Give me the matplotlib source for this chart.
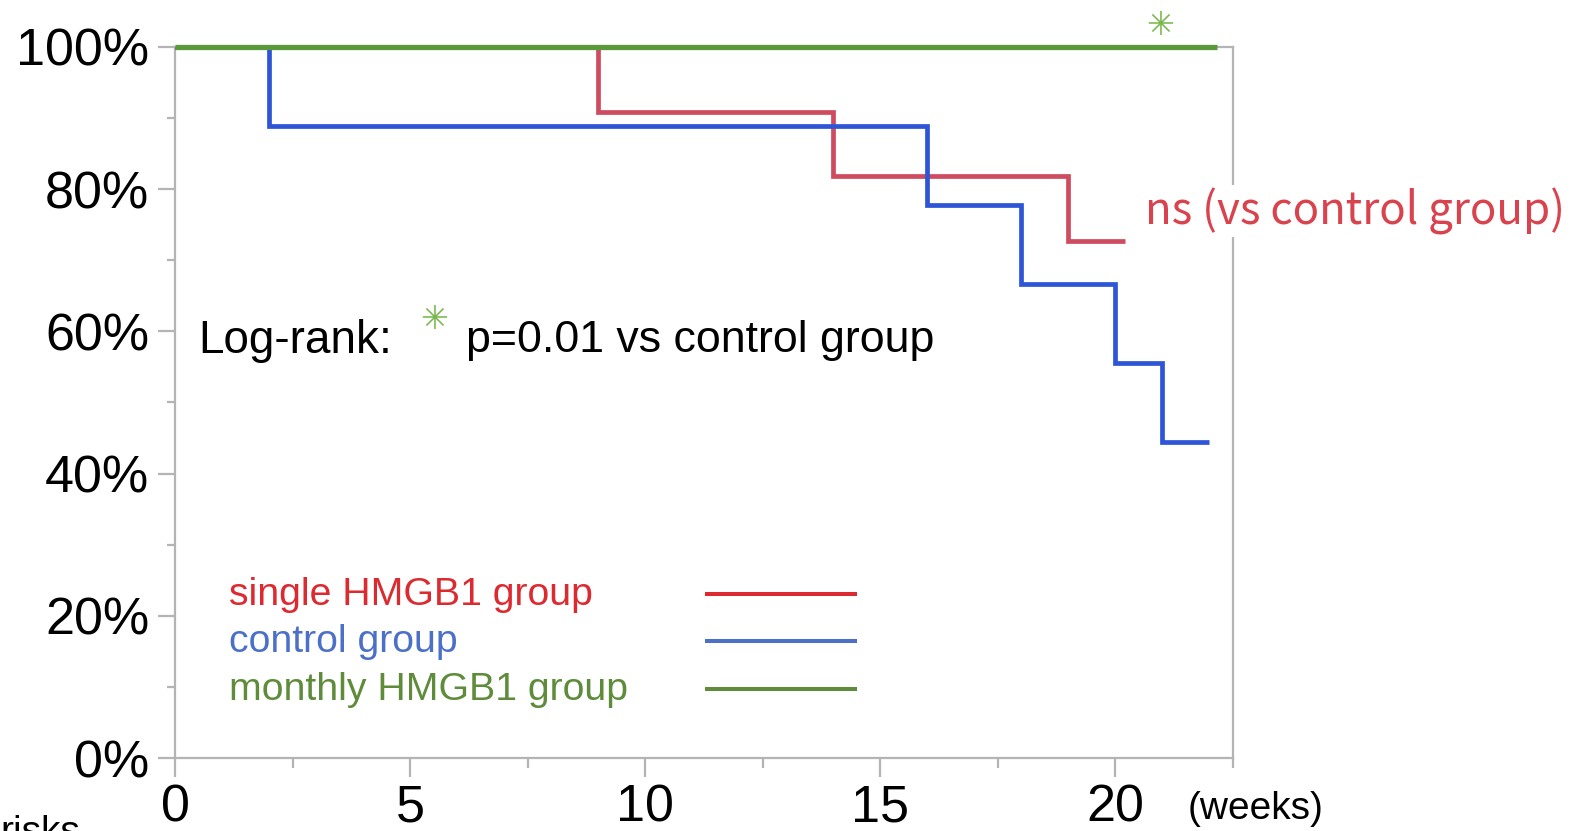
import matplotlib
matplotlib.use("Agg")
import matplotlib.pyplot as plt
from matplotlib.ticker import MultipleLocator, FuncFormatter

# Kaplan-Meier survival curves (time in weeks, survival fraction)
control_weeks = [0, 2, 16, 18, 20, 21, 22.0]
control_surv = [1.0, 0.889, 0.778, 0.667, 0.556, 0.444, 0.444]

single_weeks = [0, 9, 14, 19, 20.2]
single_surv = [1.0, 0.909, 0.818, 0.727, 0.727]

monthly_weeks = [0, 22.15]
monthly_surv = [1.0, 1.0]

group_labels = ["single HMGB1 group", "control group", "monthly HMGB1 group"]
x_ticks = [0, 5, 10, 15, 20]
y_ticks = [0, 0.2, 0.4, 0.6, 0.8, 1.0]

RED = "#cf4b5f"
BLUE = "#2e55d6"
GREEN = "#5a9a3c"
LEG_RED = "#dc2a30"
LEG_BLUE = "#4c70c8"
LEG_GREEN = "#5e8c3b"
TXT_RED = "#d9434e"
STAR_GREEN = "#7ab84e"
GRID_GREY = "#b4b4b4"

plt.rcParams["font.family"] = ["Liberation Sans", "DejaVu Sans"]

fig = plt.figure(figsize=(15.74, 8.31), dpi=100)
ax = fig.add_axes([175 / 1574, 1 - 758 / 831, 1058 / 1574, 711 / 831])

lw = 3.4
ax.plot(single_weeks, single_surv, drawstyle="steps-post", color=RED, lw=lw,
        solid_joinstyle="miter", solid_capstyle="butt", zorder=3)
ax.plot(control_weeks, control_surv, drawstyle="steps-post", color=BLUE, lw=lw,
        solid_joinstyle="miter", solid_capstyle="butt", zorder=4)
ax.plot(monthly_weeks, monthly_surv, drawstyle="steps-post", color=GREEN, lw=3.8,
        solid_joinstyle="miter", solid_capstyle="butt", zorder=5, clip_on=False)

ax.set_xlim(0, 22.5)
ax.set_ylim(0, 1)

for s in ax.spines.values():
    s.set_color(GRID_GREY)
    s.set_linewidth(1.6)

ax.set_xticks(x_ticks)
ax.set_yticks(y_ticks)
ax.xaxis.set_minor_locator(MultipleLocator(2.5))
ax.yaxis.set_minor_locator(MultipleLocator(0.1))
ax.yaxis.set_major_formatter(FuncFormatter(lambda v, p: f"{v * 100:.0f}%"))

ax.tick_params(axis="x", which="major", direction="out", length=14, width=1.6,
               color=GRID_GREY, labelsize=37.5, pad=4)
ax.tick_params(axis="x", which="minor", direction="out", length=7, width=1.6,
               color=GRID_GREY)
ax.tick_params(axis="y", which="major", direction="out", length=12.5, width=1.6,
               color=GRID_GREY, labelsize=37.5, pad=6)
ax.tick_params(axis="y", which="minor", direction="out", length=6, width=1.6,
               color=GRID_GREY)

# significance annotations
ax.text(20.62, 0.769, "ns (vs control group)", color=TXT_RED, fontsize=31.6,
        family=["Noto Sans CJK JP", "DejaVu Sans"], ha="left", va="center",
        clip_on=False, zorder=6,
        bbox=dict(facecolor="white", edgecolor="none", pad=2))
ax.text(20.96, 1.03, "✳", color=STAR_GREEN, fontsize=24, fontweight="bold",
        family=["DejaVu Sans"], ha="center", va="center", clip_on=False)

ax.text(0.0217, 0.5865, "Log-rank:", transform=ax.transAxes, fontsize=33,
        ha="left", va="center")
ax.text(0.245, 0.617, "✳", transform=ax.transAxes, fontsize=24,
        fontweight="bold", color=STAR_GREEN, family=["DejaVu Sans"],
        ha="center", va="center")
ax.text(0.275, 0.5865, "p=0.01 vs control group", transform=ax.transAxes,
        fontsize=32.2, ha="left", va="center")

# legend: labels on the left, line samples on the right
leg_y = [0.229, 0.163, 0.0955]
leg_text_colors = [LEG_RED, LEG_BLUE, LEG_GREEN]
for lab, yy, c in zip(group_labels, leg_y, leg_text_colors):
    ax.text(0.051, yy, lab, transform=ax.transAxes, fontsize=28.3, color=c,
            ha="left", va="center")
    ax.plot([0.501, 0.645], [yy + 0.002, yy + 0.002], transform=ax.transAxes,
            color=c, lw=2.9, solid_capstyle="butt")

ax.text(0.9575, -0.072, "(weeks)", transform=ax.transAxes, fontsize=28,
        ha="left", va="center", clip_on=False)
fig.text(0.0, 1 - 815 / 831, "risks", fontsize=28, ha="left", va="top")

fig.savefig("out.png", dpi=100, facecolor="white")
